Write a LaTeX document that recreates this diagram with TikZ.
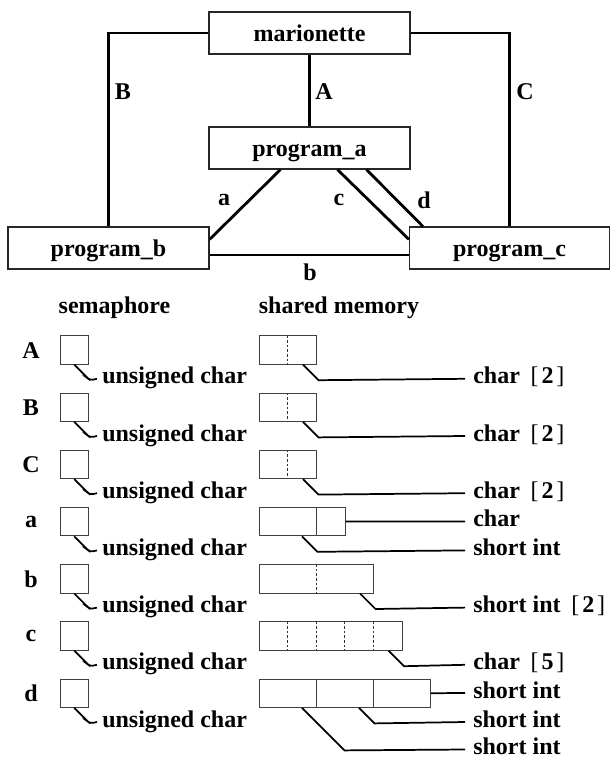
\documentclass[tikz,border=0pt]{standalone}
\usepackage{fontspec}
\setmainfont{Liberation Serif}
\usetikzlibrary{calc}
% thin-stroked array brackets around a bold count
\newcommand\arrsize[1]{\hspace{0.45em}{\mdseries[}\hspace{0.12em}#1\hspace{0.12em}{\mdseries]}}
\begin{document}
\begin{tikzpicture}[x=0.75pt,y=-0.75pt,
  font=\fontsize{18pt}{20pt}\selectfont\bfseries,
  prog/.style={draw=black!85, line width=0.85pt, minimum height=31.5pt, minimum width=150.75pt,
    inner sep=0pt, text height=13pt, text depth=0.6pt},
  link/.style={line width=2.1pt},
  lbl/.style={inner sep=0pt},
  sem/.style={draw=black!75, line width=0.75pt, minimum width=21.4pt, minimum height=21.3pt, inner sep=0pt, anchor=north west},
  mem/.style={draw=black!75, line width=0.75pt, minimum height=21.3pt, inner sep=0pt, anchor=north west},
  cell/.style={draw=black!75, line width=0.75pt},
  slot/.style={draw=black!80, line width=0.7pt, dash pattern=on 2pt off 1.5pt},
  lead/.style={line width=1.3pt},
  tag/.style={anchor=west, inner xsep=6pt, inner ysep=0pt, text height=11pt, text depth=3.5pt},
  semtag/.style={tag, inner xsep=3.75pt},
]
\useasboundingbox (0,0) rectangle (610,760);

% ---- process graph ----
\node[prog] (mar) at (309.5,33) {marionette};
\node[prog] (pa) at (309.5,148) {program\_a};
\node[prog] (pb) at (108.5,248) {program\_b};
\node[prog, minimum width=150pt] (pc) at (509.5,248) {program\_c};

\draw[link] (mar) -- (pa);
\draw[link] (mar.west) -| (pb.north);
\draw[link] (mar.east) -| (pc.north);
\draw[link] ($(pb.east)+(0,7)$) -- ($(pc.west)+(0,7)$);
\draw[link] ($(pa.south west)+(72,0)$) -- ($(pb.north east)+(0,13)$);
\draw[link] ($(pa.south west)+(129,0)$) -- ($(pc.north west)+(0,13)$);
\draw[link] ($(pa.south west)+(158,0)$) -- ($(pc.north west)+(14,0)$);

\node[lbl] (lB) at (123,92) {B};
\node[lbl] (lA) at (324,92) {A};
\node[lbl] (lC) at (525,92) {C};
\node[lbl] (la) at (224,200) {a};
\node[lbl] (lc) at (339,200) {c};
\node[lbl] (ld) at (424,200) {d};
\node[lbl] (lb) at (310,272) {b};

% ---- column headers ----
\node[lbl] (hsem) at (114.5,308) {semaphore};
\node[lbl] (hmem) at (339,308) {shared memory};

% ---- semaphores (one per channel) ----
\foreach \n/\t in {A/335.3, B/392.5, C/449.7, a/506.9, b/564.1, c/621.3, d/678.5} {
  \node[lbl] (row\n) at (31,\t+15) {\n};
  \node[sem] (s\n) at (59.5,\t) {};
  \node[semtag] (u\n) at (97,\t+43.5) {unsigned char};
  \draw[lead, rounded corners=2pt] (s\n.south) -- ++(14,14) -- ++(2,1.5) -- (u\n.west);
}

% ---- shared memory: char[2] for A, B, C ----
\foreach \n/\t in {A/335.3, B/392.5, C/449.7} {
  \node[mem, minimum width=42.75pt] (m\n) at (259,\t) {};
  \draw[slot] ($(m\n.north west)+(28.5,0)$) -- ($(m\n.south west)+(28.5,0)$);
  \node[tag] (t\n) at (465,\t+43.5) {char\arrsize{2}};
  \draw[lead] ($(m\n.south east)+(-14,0)$) -- ++(15.5,15.5) -- (t\n.west);
}

% ---- a: short int + char ----
\node[mem, minimum width=64.125pt] (ma) at (259,506.9) {};
\draw[cell] ($(ma.north west)+(57,0)$) -- ($(ma.south west)+(57,0)$);
\node[tag] (ta1) at (465,521.4) {char};
\node[tag] (ta2) at (465,550.4) {short int};
\draw[lead] (ma.east) -- (ta1.west);
\draw[lead] ($(ma.south west)+(43,0)$) -- ++(15.5,15.5) -- (ta2.west);

% ---- b: short int[2] ----
\node[mem, minimum width=85.5pt] (mb) at (259,564.1) {};
\draw[slot] ($(mb.north west)+(57,0)$) -- ($(mb.south west)+(57,0)$);
\node[tag] (tb) at (465,607.6) {short int\arrsize{2}};
\draw[lead] ($(mb.south east)+(-14,0)$) -- ++(15.5,15.5) -- (tb.west);

% ---- c: char[5] ----
\node[mem, minimum width=106.875pt] (mc) at (259,621.3) {};
\foreach \k in {1,2,3,4}
  \draw[slot] ($(mc.north west)+(28.5*\k,0)$) -- ($(mc.south west)+(28.5*\k,0)$);
\node[tag] (tc) at (465,664.8) {char\arrsize{5}};
\draw[lead] ($(mc.south east)+(-14,0)$) -- ++(15.5,15.5) -- (tc.west);

% ---- d: three short ints ----
\node[mem, minimum width=128.25pt] (md) at (259,678.5) {};
\draw[cell] ($(md.north west)+(57,0)$) -- ($(md.south west)+(57,0)$);
\draw[cell] ($(md.north west)+(114,0)$) -- ($(md.south west)+(114,0)$);
\node[tag] (td1) at (465,693) {short int};
\node[tag] (td2) at (465,722) {short int};
\node[tag] (td3) at (465,749.5) {short int};
\draw[lead] (md.east) -- (td1.west);
\draw[lead] ($(md.south west)+(100,0)$) -- ++(15.5,15.5) -- (td2.west);
\draw[lead] ($(md.south west)+(43,0)$) -- ++(42.5,42.5) -- (td3.west);
\end{tikzpicture}
\end{document}
